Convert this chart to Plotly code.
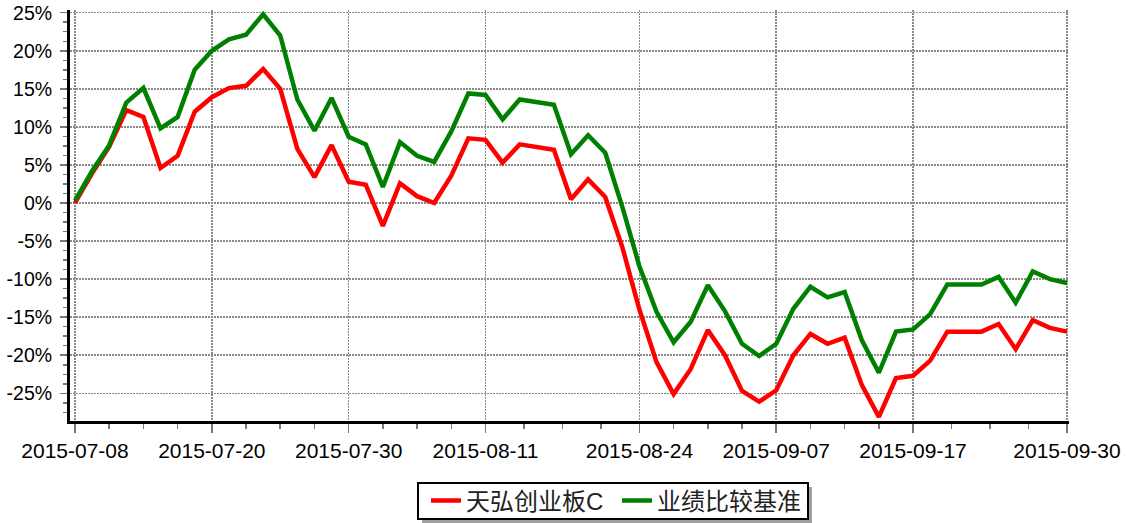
import plotly.graph_objects as go

dates = [
    "2015-07-08", "2015-07-09", "2015-07-10", "2015-07-13", "2015-07-14", "2015-07-15",
    "2015-07-16", "2015-07-17", "2015-07-20", "2015-07-21", "2015-07-22", "2015-07-23",
    "2015-07-24", "2015-07-27", "2015-07-28", "2015-07-29", "2015-07-30", "2015-07-31",
    "2015-08-03", "2015-08-04", "2015-08-05", "2015-08-06", "2015-08-07", "2015-08-10",
    "2015-08-11", "2015-08-12", "2015-08-13", "2015-08-14", "2015-08-17", "2015-08-18",
    "2015-08-19", "2015-08-20", "2015-08-21", "2015-08-24", "2015-08-25", "2015-08-26",
    "2015-08-27", "2015-08-28", "2015-08-31", "2015-09-01", "2015-09-02", "2015-09-07",
    "2015-09-08", "2015-09-09", "2015-09-10", "2015-09-11", "2015-09-14", "2015-09-15",
    "2015-09-16", "2015-09-17", "2015-09-18", "2015-09-21", "2015-09-22", "2015-09-23",
    "2015-09-24", "2015-09-25", "2015-09-28", "2015-09-29", "2015-09-30",
]

fund_name = "天弘创业板C"
fund = [
    0.0, 3.9, 7.4, 12.2, 11.3, 4.6, 6.2, 12.0, 13.9, 15.1, 15.4, 17.6, 15.0, 7.1, 3.4,
    7.6, 2.8, 2.4, -3.0, 2.6, 0.9, 0.0, 3.6, 8.5, 8.3, 5.3, 7.7, 7.3, 7.0, 0.5,
    3.1, 0.8, -5.8, -14.0, -20.9, -25.1, -21.8, -16.7, -20.0, -24.7, -26.1, -24.6, -20.0, -17.2, -18.5,
    -17.7, -23.9, -28.1, -23.0, -22.7, -20.7, -16.9, -16.9, -16.9, -15.9, -19.2, -15.4, -16.4, -16.9,
]

bench_name = "业绩比较基准"
bench = [
    0.3, 4.2, 7.6, 13.2, 15.1, 9.8, 11.3, 17.5, 20.0, 21.5, 22.1, 24.8, 22.0, 13.6, 9.5,
    13.8, 8.7, 7.7, 2.1, 8.0, 6.2, 5.4, 9.4, 14.4, 14.2, 11.0, 13.6, 13.2, 12.9, 6.4,
    8.9, 6.6, -0.5, -8.3, -14.3, -18.3, -15.6, -10.8, -14.2, -18.5, -20.1, -18.5, -13.9, -11.0, -12.4,
    -11.7, -18.0, -22.3, -16.9, -16.6, -14.6, -10.7, -10.7, -10.7, -9.7, -13.1, -9.0, -10.0, -10.5,
]

x_tick_labels = ["2015-07-08", "2015-07-20", "2015-07-30", "2015-08-11",
                 "2015-08-24", "2015-09-07", "2015-09-17", "2015-09-30"]
y_tick_values = [-25, -20, -15, -10, -5, 0, 5, 10, 15, 20, 25]

idx = list(range(len(dates)))
major_idx = [dates.index(d) for d in x_tick_labels]
minor_idx = []
for a, b in zip(major_idx[:-1], major_idx[1:]):
    for k in range(1, 4):
        minor_idx.append(a + (b - a) * k / 4)

FONT = "Liberation Sans, Arial, Noto Sans CJK SC, sans-serif"
GRID = "#8a8a8a"

fig = go.Figure()
fig.add_trace(go.Scatter(x=idx, y=fund, mode="lines", name=fund_name,
                         line=dict(color="#ff0000", width=4.5)))
fig.add_trace(go.Scatter(x=idx, y=bench, mode="lines", name=bench_name,
                         line=dict(color="#008000", width=4.5)))

# the page's body margin is removed by post_script, so figure = window
W, H = 1127, 523
PL, PR, PT, PB = 70, 1069, 10, 421   # plot area in window pixels
L, T, R, B = PL, PT, W - PR, H - PB
pw, ph = PR - PL, PB - PT
def px(xp):
    return (xp - PL) / pw
def py(yp):
    return (PB - yp) / ph

# axis ranges from the reference's pixel scale
x_per_px = 58 / (1067 - 75)
x_range = [(PL - 75) * x_per_px, 58 + (PR - 1067) * x_per_px]
y_per_px = 50 / (393.3 - 12.7)
y_range = [-25 - (PB - 393.3) * y_per_px, 25 + (12.7 - PT) * y_per_px]

# legend frame with drop shadow
fig.add_shape(type="rect", xref="paper", yref="paper",
              x0=px(422), x1=px(812), y0=py(523), y1=py(487),
              fillcolor="#a0a0a0", line=dict(width=0), layer="above")
fig.add_shape(type="rect", xref="paper", yref="paper",
              x0=px(418), x1=px(808), y0=py(519), y1=py(483),
              fillcolor="white", line=dict(width=2, color="black"), layer="above")

fig.update_layout(
    width=W, height=H,
    margin=dict(l=L, r=R, t=T, b=B, autoexpand=False),
    paper_bgcolor="white", plot_bgcolor="white",
    font=dict(family=FONT, color="black"),
    showlegend=True,
    legend=dict(orientation="h", x=px(426), xanchor="left", y=py(501), yanchor="middle",
                bgcolor="rgba(0,0,0,0)", borderwidth=0,
                entrywidth=146, entrywidthmode="pixels",
                font=dict(size=24, family=FONT, color="#222")),
    hovermode=False,
)

fig.update_xaxes(
    range=x_range, automargin=False, ticklabeloverflow="allow",
    tickmode="array", tickvals=major_idx, ticktext=x_tick_labels,
    tickfont=dict(size=21, family=FONT, color="black"),
    showgrid=True, gridcolor=GRID, gridwidth=1.5, griddash="1.5px,1.5px",
    showline=True, linecolor="black", linewidth=3,
    ticks="outside", ticklen=9, tickcolor="#777", tickwidth=1.5,
    minor=dict(tickvals=minor_idx, ticks="outside", ticklen=5, tickcolor="#777",
               tickwidth=1.5, showgrid=False),
    zeroline=False,
)
fig.update_yaxes(
    range=y_range, automargin=False, ticklabeloverflow="allow",
    tickmode="array", tickvals=y_tick_values,
    ticktext=[f"{v}%" for v in y_tick_values],
    tickfont=dict(size=19.5, family=FONT, color="black"),
    ticklabelstandoff=4,
    showgrid=True, gridcolor=GRID, gridwidth=1.5, griddash="1.5px,1.5px",
    showline=True, linecolor="black", linewidth=3,
    ticks="outside", ticklen=7, tickcolor="#777", tickwidth=1.5,
    minor=dict(dtick=1.25, tick0=0, ticks="outside", ticklen=4, tickcolor="#777",
               tickwidth=1.5, showgrid=False),
    zeroline=False,
)

fig.write_html(
    "out.html",
    config={"displayModeBar": False, "staticPlot": True},
    post_script="document.body.style.margin='0';document.body.style.padding='0';",
)
